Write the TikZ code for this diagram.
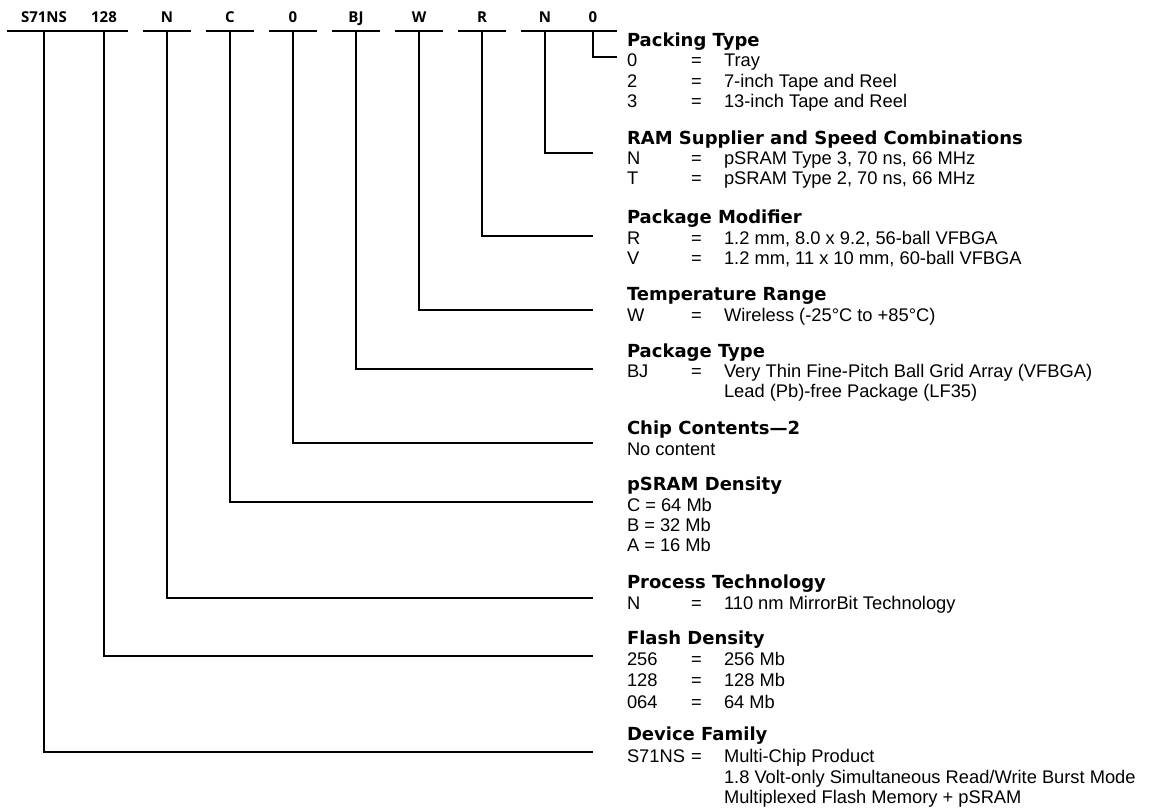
\documentclass[tikz,border=0pt]{standalone}
\usepackage{fontspec}
\setmainfont{Liberation Sans}
\newfontfamily\headfam{DejaVu Sans}
\newfontfamily\labfam{Open Sans}
\newcommand\krow[4]{%
  \node[body] (#1k) at (627,#2) {#3};
  \node[body] (#1e) at (691,#2) {=};
  \node[body] (#1v) at (724,#2) {#4};}
\begin{document}
\begin{tikzpicture}[x=1pt,y=-1pt,
  txt/.style={anchor=base west, inner sep=0pt, outer sep=0pt},
  body/.style={txt, font=\fontsize{18.3}{21}\selectfont},
  head/.style={txt, font=\headfam\bfseries\fontsize{18}{21}\selectfont},
  lab/.style={anchor=base, inner sep=0pt, outer sep=0pt, font=\labfam\bfseries\fontsize{15}{17}\selectfont},
  wire/.style={line width=1.9pt, line join=miter}]
\useasboundingbox (0,0) rectangle (1169,810);

% part-number labels
\node[lab] (l1) at (44,23) {S71NS};
\node[lab] (l2) at (104,23) {128};
\node[lab] (l3) at (167,23) {N};
\node[lab] (l4) at (230,23) {C};
\node[lab] (l5) at (293,23) {0};
\node[lab] (l6) at (356,23) {BJ};
\node[lab] (l7) at (419,23) {W};
\node[lab] (l8) at (482,23) {R};
\node[lab] (l9) at (545,23) {N};
\node[lab] (l10) at (593,23) {0};

% underlines
\draw[wire] (7.3,31) -- (127.7,31);
\draw[wire] (143,31) -- (191,31);
\draw[wire] (206,31) -- (254,31);
\draw[wire] (269,31) -- (317,31);
\draw[wire] (332,31) -- (380,31);
\draw[wire] (395,31) -- (443,31);
\draw[wire] (458,31) -- (506,31);
\draw[wire] (521,31) -- (617,31);

% Packing Type
\node[head] (h10) at (627,47) {Packing Type};
\krow{pa}{67}{0}{Tray}
\krow{pb}{87.5}{2}{7-inch Tape and Reel}
\krow{pc}{108}{3}{13-inch Tape and Reel}

% RAM
\node[head] (h9) at (627,145) {RAM Supplier and Speed Combinations};
\krow{ra}{165}{N}{pSRAM Type 3, 70 ns, 66 MHz}
\krow{rb}{185}{T}{pSRAM Type 2, 70 ns, 66 MHz}

% Package Modifier
\node[head] (h8) at (627,224) {Package Modifier};
\krow{ma}{245}{R}{1.2 mm, 8.0 x 9.2, 56-ball VFBGA}
\krow{mb}{265}{V}{1.2 mm, 11 x 10 mm, 60-ball VFBGA}

% Temperature
\node[head] (h7) at (627,300) {Temperature Range};
\krow{ta}{321}{W}{Wireless (-25°C to +85°C)}

% Package Type
\node[head] (h6) at (627,357) {Package Type};
\krow{ka}{377}{BJ}{Very Thin Fine-Pitch Ball Grid Array (VFBGA)}
\node[body] (kb) at (724,397) {Lead (Pb)-free Package (LF35)};

% Chip contents
\node[head] (h5) at (627,434) {Chip Contents—2};
\node[body] (ca) at (627,455) {No content};

% pSRAM density
\node[head] (h4) at (627,490) {pSRAM Density};
\node[body] (da) at (627,511) {C = 64 Mb};
\node[body] (db) at (627,531) {B = 32 Mb};
\node[body] (dc) at (627,551) {A = 16 Mb};

% Process
\node[head] (h3) at (627,588) {Process Technology};
\krow{na}{609}{N}{110 nm MirrorBit Technology}

% Flash density
\node[head] (h2) at (627,644) {Flash Density};
\krow{fa}{665}{256}{256 Mb}
\krow{fb}{686.5}{128}{128 Mb}
\krow{fc}{708}{064}{64 Mb}

% Device family
\node[head] (h1) at (627,740) {Device Family};
\krow{va}{762}{S71NS}{Multi-Chip Product}
\node[body] (vb) at (724,783) {1.8 Volt-only Simultaneous Read/Write Burst Mode};
\node[body] (vc) at (724,803) {Multiplexed Flash Memory + pSRAM};

% connectors
\coordinate (u1) at (44,31);   \coordinate (e1) at (593,752.3);
\coordinate (u2) at (104,31);  \coordinate (e2) at (593,656);
\coordinate (u3) at (167,31);  \coordinate (e3) at (593,598);
\coordinate (u4) at (230,31);  \coordinate (e4) at (593,501.7);
\coordinate (u5) at (293,31);  \coordinate (e5) at (593,442.7);
\coordinate (u6) at (356,31);  \coordinate (e6) at (593,369);
\coordinate (u7) at (419,31);  \coordinate (e7) at (593,310);
\coordinate (u8) at (482,31);  \coordinate (e8) at (593,235.7);
\coordinate (u9) at (545,31);  \coordinate (e9) at (593,152.7);
\coordinate (u10) at (593,31); \coordinate (e10) at (617,57);
\foreach \i in {1,...,10} {\draw[wire] (u\i) |- (e\i);}
\end{tikzpicture}
\end{document}
